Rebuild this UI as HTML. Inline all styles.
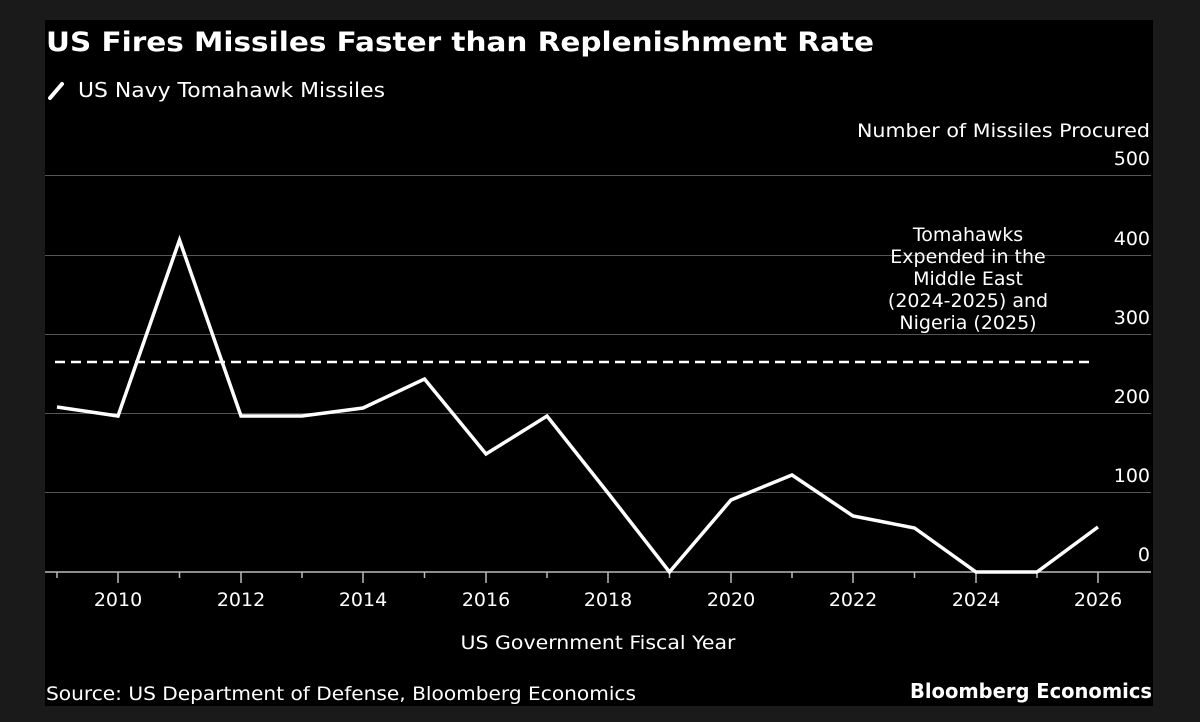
<!DOCTYPE html>
<html><head><meta charset="utf-8"><style>
html,body{margin:0;padding:0;background:#1a1a1a;}
body{width:1200px;height:722px;overflow:hidden;position:relative;}
svg{position:absolute;left:0;top:0;}
text{font-family:"DejaVu Sans","Liberation Sans",sans-serif;fill:#fff;}
</style></head><body>
<svg width="1200" height="722" viewBox="0 0 1200 722">
<rect x="45" y="20" width="1108" height="686" fill="#000"/>
<text x="46" y="51" font-size="27" font-weight="bold" textLength="828" lengthAdjust="spacingAndGlyphs">US Fires Missiles Faster than Replenishment Rate</text>
<line x1="50" y1="98" x2="62" y2="84" stroke="#fff" stroke-width="4" stroke-linecap="round"/>
<text x="78" y="97" font-size="20" fill="#ddd" textLength="307" lengthAdjust="spacingAndGlyphs">US Navy Tomahawk Missiles</text>
<text x="1150" y="137" font-size="19" text-anchor="end" textLength="293" lengthAdjust="spacingAndGlyphs">Number of Missiles Procured</text>
<g stroke="#555" stroke-width="1">
<line x1="45" y1="175.5" x2="1151" y2="175.5"/>
<line x1="45" y1="255.5" x2="1151" y2="255.5"/>
<line x1="45" y1="334.5" x2="1151" y2="334.5"/>
<line x1="45" y1="413.5" x2="1151" y2="413.5"/>
<line x1="45" y1="492.5" x2="1151" y2="492.5"/>
</g>
<g font-size="19" text-anchor="end">
<text x="1150" y="165">500</text>
<text x="1150" y="245">400</text>
<text x="1150" y="324">300</text>
<text x="1150" y="403">200</text>
<text x="1150" y="482">100</text>
<text x="1150" y="561">0</text>
</g>
<g font-size="19" text-anchor="middle">
<text x="968" y="241">Tomahawks</text>
<text x="968" y="263">Expended in the</text>
<text x="968" y="285">Middle East</text>
<text x="968" y="307">(2024-2025) and</text>
<text x="968" y="329">Nigeria (2025)</text>
</g>
<line x1="55" y1="362" x2="1093" y2="362" stroke="#fff" stroke-width="2.5" stroke-dasharray="10,6"/>
<line x1="45" y1="572" x2="1151" y2="572" stroke="#bbb" stroke-width="1.5"/>
<g stroke="#bbb" stroke-width="1.5">
<line x1="57" y1="572" x2="57" y2="578"/><line x1="118" y1="572" x2="118" y2="583"/>
<line x1="179.5" y1="572" x2="179.5" y2="578"/><line x1="241" y1="572" x2="241" y2="583"/>
<line x1="302" y1="572" x2="302" y2="578"/><line x1="363" y1="572" x2="363" y2="583"/>
<line x1="424.5" y1="572" x2="424.5" y2="578"/><line x1="486" y1="572" x2="486" y2="583"/>
<line x1="547" y1="572" x2="547" y2="578"/><line x1="608" y1="572" x2="608" y2="583"/>
<line x1="669.5" y1="572" x2="669.5" y2="578"/><line x1="731" y1="572" x2="731" y2="583"/>
<line x1="792" y1="572" x2="792" y2="578"/><line x1="853" y1="572" x2="853" y2="583"/>
<line x1="914.5" y1="572" x2="914.5" y2="578"/><line x1="976" y1="572" x2="976" y2="583"/>
<line x1="1037" y1="572" x2="1037" y2="578"/><line x1="1098" y1="572" x2="1098" y2="583"/>
</g>
<g font-size="19" text-anchor="middle">
<text x="118" y="606">2010</text><text x="241" y="606">2012</text><text x="363" y="606">2014</text>
<text x="486" y="606">2016</text><text x="608" y="606">2018</text><text x="731" y="606">2020</text>
<text x="853" y="606">2022</text><text x="976" y="606">2024</text><text x="1098" y="606">2026</text>
</g>
<text x="598" y="649" font-size="19" text-anchor="middle" textLength="275" lengthAdjust="spacingAndGlyphs">US Government Fiscal Year</text>
<polyline fill="none" stroke="#fff" stroke-width="3.5" stroke-linejoin="miter" points="57,407 118,416 179.5,240 241,416 302,416 363,408 424.5,379 486,454 547,416 608,493 669.5,572 731,500 792,475 853,516 914.5,528 976,572 1037,572 1098,527"/>
<text x="46" y="700" font-size="19" fill="#ddd" textLength="590" lengthAdjust="spacingAndGlyphs">Source: US Department of Defense, Bloomberg Economics</text>
<text x="1152" y="698" font-size="20" font-weight="bold" text-anchor="end" textLength="242" lengthAdjust="spacingAndGlyphs">Bloomberg Economics</text>
</svg>
</body></html>
